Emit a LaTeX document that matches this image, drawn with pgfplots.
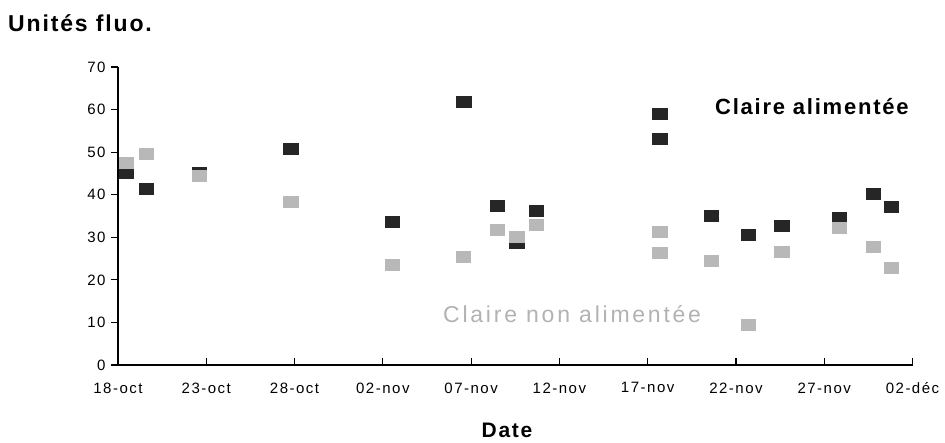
\documentclass[border=0pt]{standalone}
\usepackage{fontspec}
\setmainfont{Liberation Sans}
\newfontfamily\tickf[LetterSpace=10]{Liberation Sans}
\newfontfamily\titf[LetterSpace=8]{Liberation Sans}
\newfontfamily\grayf[LetterSpace=12]{Liberation Sans}
\usepackage{pgfplots}
\pgfplotsset{compat=1.18}
\begin{document}
\begin{tikzpicture}
\begin{axis}[
  at={(0pt,0pt)}, anchor=south west,
  scale only axis, width=794.5pt, height=298pt,
  xmin=0, xmax=45, ymin=0, ymax=70,
  axis lines=left,
  axis line style={line width=1.3pt, -},
  xtick={0,5,...,45},
  xticklabels={18-oct,23-oct,28-oct,02-nov,07-nov,12-nov,17-nov,22-nov,27-nov,02-déc},
  ytick={0,10,...,70},
  tick align=inside,
  major tick length=7pt,
  tick style={line width=1.2pt, black},
  ytick style={xshift=-7pt},
  /pgf/number format/assume math mode=true,
  ticklabel style={font=\tickf\fontsize{15}{15}\selectfont},
  xticklabel style={yshift=-14pt},
  yticklabel style={xshift=-9pt},
  clip=false,
]
% Claire alimentee (dark)
\addplot[only marks, color=black!85, mark=square*, mark size=5.5pt,
  mark options={xscale=1.3, fill=black!85, draw=black!85, line width=0pt}] coordinates {
(0.5,45.0) (1.6,41.3) (4.6,45.1) (9.8,50.8) (15.55,33.6) (19.6,61.8)
(21.5,37.3) (22.6,28.7) (23.7,36.1) (30.7,59.0) (30.7,53.2) (33.6,35.1)
(35.7,30.5) (37.6,32.7) (40.85,34.6) (42.8,40.2) (43.8,37.2)
};
% Claire non alimentee (light)
\addplot[only marks, color=black!28, mark=square*, mark size=5.5pt,
  mark options={xscale=1.3, fill=black!28, draw=black!28, line width=0pt}] coordinates {
(0.5,47.4) (1.6,49.6) (4.6,44.3) (9.8,38.3) (15.55,23.6) (19.55,25.4)
(21.5,31.7) (22.6,29.95) (23.7,32.9) (30.7,31.3) (30.7,26.4) (33.6,24.4)
(35.7,9.4) (37.6,26.5) (40.85,32.1) (42.8,27.6) (43.8,22.7)
};
\end{axis}
\node[anchor=west, inner sep=0pt, font=\titf\bfseries\fontsize{23}{23}\selectfont] at (-110pt,342pt) {Unités fluo.};
\node[anchor=west, inner sep=0pt, font=\titf\bfseries\fontsize{22}{22}\selectfont] at (597pt,258pt) {Claire alimentée};
\node[anchor=west, inner sep=0pt, text=black!30, font=\grayf\fontsize{23}{23}\selectfont] at (325pt,51pt) {Claire non alimentée};
\node[inner sep=0pt, font=\titf\bfseries\fontsize{21}{21}\selectfont] at (389pt,-65pt) {Date};
\pgfresetboundingbox
\path[use as bounding box] (-118pt,-78pt) rectangle (827pt,365pt);
\end{tikzpicture}
\end{document}
